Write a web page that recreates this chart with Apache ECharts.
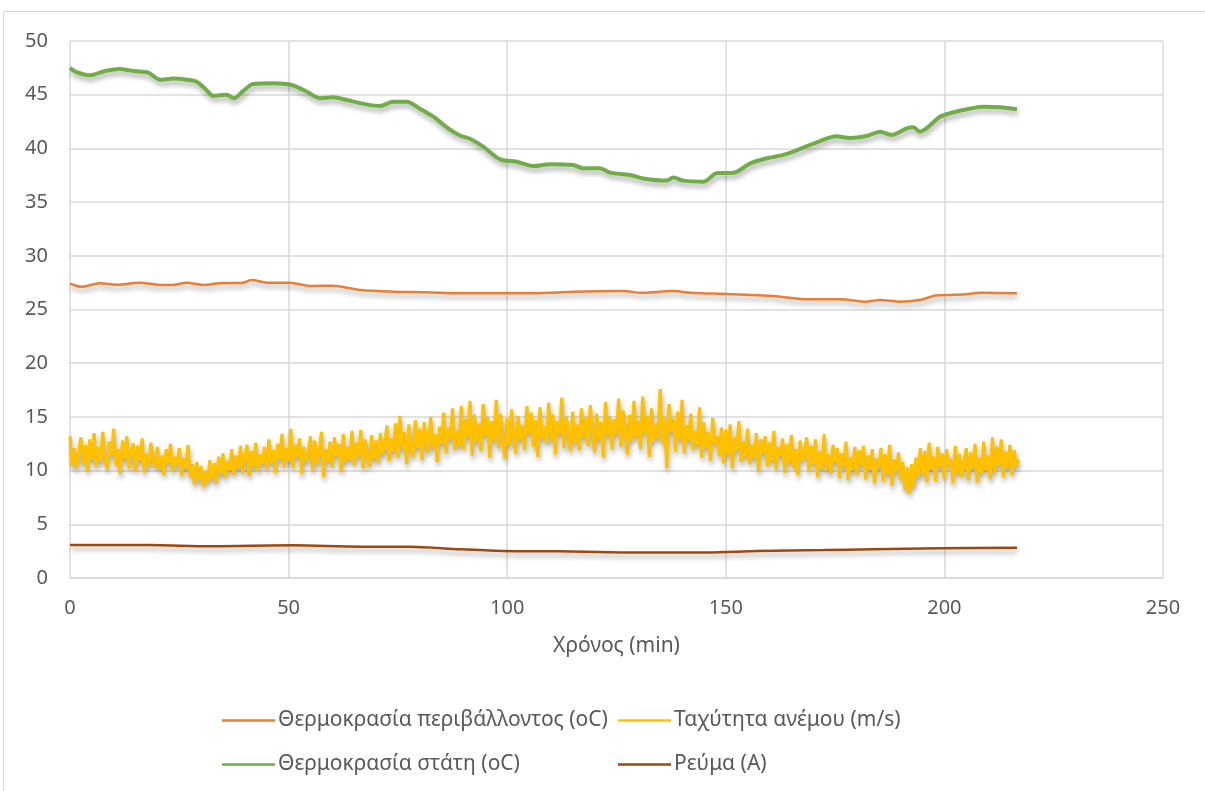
<!DOCTYPE html>
<html>
<head>
<meta charset="utf-8">
<title>Θερμοκρασία, άνεμος και ρεύμα</title>
<script src="https://cdn.jsdelivr.net/npm/echarts@6/dist/echarts.min.js"></script>
<style>
  html, body { margin: 0; padding: 0; background: #ffffff; }
  #chart { width: 1205px; height: 791px; }
</style>
</head>
<body>
<div id="chart"></div>
<script>
// Series names (legend text)
const seriesNames = [
  'Θερμοκρασία περιβάλλοντος (oC)',
  'Ταχύτητα ανέμου (m/s)',
  'Θερμοκρασία στάτη (oC)',
  'Ρεύμα (A)'
];

// Axis ticks
const xTicks = [0, 50, 100, 150, 200, 250];
const yTicks = [0, 5, 10, 15, 20, 25, 30, 35, 40, 45, 50];
const xAxisTitle = 'Χρόνος (min)';

// Ambient temperature: [minute, °C]
const ambientTemp = [
  [0, 27.4], [2.7, 27.12], [6.9, 27.44], [10.7, 27.31], [16, 27.5], [20.6, 27.28],
  [23.6, 27.28], [26.7, 27.5], [30.5, 27.28], [34.3, 27.44], [39.6, 27.5], [41.6, 27.75],
  [45, 27.5], [50.3, 27.5], [54.9, 27.19], [59.9, 27.22], [66.4, 26.82], [74, 26.66],
  [81.6, 26.6], [89.2, 26.51], [96.8, 26.51], [104.4, 26.51], [110, 26.56], [115.1, 26.66],
  [126.6, 26.72], [130.4, 26.56], [138, 26.72], [141.8, 26.56], [150.2, 26.44],
  [160.8, 26.26], [168.5, 25.95], [176.1, 25.95], [182.2, 25.73], [185.3, 25.88],
  [189.5, 25.73], [194.4, 25.88], [197.5, 26.26], [200.5, 26.35], [205.1, 26.41],
  [208.2, 26.56], [216.6, 26.51]
];

// Wind speed, sampled every half minute from t = 0 (m/s)
const windStep = 0.5;
const windSpeed = [
  13.2, 10.4, 12.1, 10.2, 11.8, 13.1, 10.6, 12.4, 9.9, 12.9,
  11.0, 13.5, 10.3, 12.2, 10.8, 13.6, 11.2, 10.1, 12.7, 11.4,
  13.9, 10.5, 12.0, 9.7, 12.8, 11.1, 13.2, 10.2, 11.7, 12.5,
  10.0, 12.3, 10.9, 13.0, 9.8, 11.6, 10.4, 12.6, 11.0, 10.3,
  12.2, 10.1, 11.4, 9.6, 12.0, 10.7, 12.5, 9.9, 11.3, 10.5,
  12.1, 9.5, 11.2, 10.2, 12.4, 9.4, 10.6, 8.7, 10.8, 9.1,
  10.4, 8.5, 9.9, 8.9, 11.0, 9.2, 10.7, 8.8, 11.3, 9.7,
  11.6, 9.3, 10.9, 10.0, 12.0, 9.6, 11.4, 10.2, 12.3, 9.8,
  11.1, 12.4, 9.5, 11.8, 10.4, 12.6, 9.9, 11.5, 10.6, 12.2,
  10.1, 12.9, 10.7, 11.9, 9.8, 12.5, 11.0, 13.4, 10.3, 12.1,
  10.9, 13.9, 10.2, 12.4, 11.3, 13.0, 9.7, 12.2, 10.8, 11.7,
  13.2, 10.0, 12.8, 10.6, 11.5, 13.6, 9.4, 12.0, 10.9, 12.7,
  10.3, 13.1, 11.4, 12.5, 9.9, 13.4, 10.8, 12.2, 11.0, 13.7,
  10.5, 12.6, 11.3, 13.8, 10.2, 12.9, 11.6, 10.4, 13.3, 11.1,
  12.8, 10.7, 13.5, 11.5, 12.2, 14.2, 10.9, 13.0, 11.8, 14.4,
  11.2, 15.1, 12.0, 13.6, 10.6, 14.3, 12.4, 11.3, 14.7, 12.1,
  13.9, 11.0, 14.5, 12.6, 11.7, 15.0, 12.2, 13.4, 10.8, 14.1,
  12.5, 15.4, 11.6, 14.0, 12.9, 15.8, 11.9, 13.7, 12.3, 16.0,
  12.0, 14.8, 13.1, 16.5, 11.4, 15.2, 12.7, 14.4, 11.8, 16.2,
  13.3, 15.0, 11.2, 14.6, 12.8, 16.6, 12.1, 15.3, 13.0, 11.1,
  14.9, 12.4, 15.7, 13.2, 11.6, 15.1, 12.9, 14.2, 11.9, 16.0,
  13.5, 15.4, 12.2, 14.7, 11.3, 15.9, 13.0, 14.1, 12.5, 16.3,
  12.8, 15.2, 11.5, 14.6, 13.4, 16.8, 12.1, 15.0, 13.7, 11.8,
  15.5, 12.6, 14.3, 11.9, 15.8, 13.1, 14.9, 12.3, 16.1, 13.6,
  11.7, 15.3, 12.9, 14.5, 11.2, 16.4, 13.3, 15.0, 12.0, 14.8,
  13.4, 16.7, 12.2, 15.6, 13.9, 11.5, 15.2, 12.8, 16.5, 13.1,
  14.6, 12.0, 16.9, 13.5, 15.1, 11.3, 15.8, 12.7, 14.4, 13.0,
  17.6, 12.5, 15.0, 10.2, 16.2, 13.6, 14.8, 11.8, 15.5, 12.9,
  16.6, 11.6, 14.2, 12.8, 15.3, 11.9, 13.7, 12.4, 15.9, 11.2,
  14.5, 12.1, 13.6, 10.9, 14.9, 12.6, 13.2, 11.4, 14.0, 10.7,
  13.8, 11.5, 14.3, 10.2, 13.1, 11.9, 14.6, 10.8, 12.7, 11.3,
  13.9, 10.6, 12.4, 11.2, 13.5, 9.9, 12.9, 11.6, 13.2, 10.4,
  12.6, 10.9, 13.7, 10.1, 12.2, 11.4, 13.0, 9.8, 12.5, 10.7,
  13.3, 10.3, 12.0, 9.6, 12.8, 10.9, 11.7, 13.1, 9.9, 12.3,
  10.6, 12.9, 9.4, 11.8, 10.2, 13.4, 10.0, 11.5, 9.7, 12.4,
  10.8, 12.1, 9.3, 11.6, 10.4, 12.7, 9.1, 11.2, 10.0, 12.2,
  9.6, 11.9, 10.5, 12.3, 9.2, 11.4, 10.1, 12.0, 8.8, 11.1,
  10.3, 12.1, 9.0, 11.5, 9.7, 12.4, 8.6, 11.0, 9.9, 11.7,
  9.1, 10.8, 8.2, 10.3, 7.9, 10.6, 8.5, 11.2, 9.3, 12.1,
  9.6, 11.8, 8.9, 12.6, 10.1, 11.3, 9.0, 12.2, 10.4, 11.6,
  9.2, 12.0, 10.6, 11.1, 8.8, 12.3, 9.8, 11.5, 9.4, 10.9,
  12.1, 9.1, 11.7, 10.2, 12.5, 8.9, 11.2, 9.7, 12.7, 10.0,
  11.4, 9.2, 13.1, 9.8, 12.2, 10.5, 12.9, 9.4, 11.8, 10.3,
  12.4, 9.6, 11.9, 10.4, 11.0
];

// Stator temperature: [minute, °C]
const statorTemp = [
  [0, 47.5], [1.5, 47.1], [4.6, 46.8], [8, 47.2], [11.4, 47.4], [14.5, 47.2],
  [17.9, 47.05], [20.6, 46.4], [23.6, 46.5], [26.7, 46.4], [29, 46.2], [30.8, 45.6],
  [32.8, 44.9], [35.8, 45.0], [37.5, 44.67], [39.5, 45.3], [41.9, 46.0], [46.5, 46.06],
  [50.7, 45.9], [54.1, 45.3], [57.2, 44.67], [60.2, 44.76], [63.3, 44.5], [67.8, 44.1],
  [70.9, 43.95], [73.9, 44.35], [77, 44.35], [80, 43.7], [83.1, 42.95], [86.5, 41.87],
  [89.2, 41.2], [91.5, 40.9], [94.5, 40.16], [98.4, 38.98], [102.2, 38.76], [106, 38.36],
  [109.8, 38.52], [115.1, 38.45], [117.4, 38.15], [121.2, 38.15], [123.5, 37.74],
  [128.1, 37.52], [131.1, 37.2], [136.5, 37.0], [138, 37.3], [140.3, 37.0], [144.9, 36.9],
  [148, 37.7], [151.8, 37.74], [155.6, 38.6], [159.4, 39.08], [163.2, 39.4], [167, 39.95],
  [170.4, 40.5], [175.4, 41.12], [178.4, 40.96], [182.2, 41.15], [185.3, 41.56],
  [187.9, 41.25], [191.4, 41.87], [192.9, 41.96], [194.4, 41.56], [199, 42.95],
  [201.3, 43.27], [205.1, 43.64], [208.9, 43.88], [212.7, 43.83], [216.6, 43.64]
];

// Current: [minute, A]
const current = [
  [0, 3.07], [18.3, 3.07], [32, 2.95], [51, 3.04], [66.4, 2.92], [77.8, 2.92],
  [89.2, 2.67], [99.1, 2.52], [112.1, 2.49], [126.6, 2.38], [145.6, 2.38],
  [157.1, 2.51], [172.3, 2.6], [183.7, 2.67], [199, 2.76], [216.6, 2.82]
];

const colors = ['#ED7D31', '#FFC000', '#70AD47', '#9E480E'];
const fontFamily = '"Noto Sans", "Open Sans", sans-serif';
const textColor = '#595959';
const gridColor = '#d9d9d9';

const windData = windSpeed.map((v, i) => [i * windStep, v]);

const shadow = {
  shadowColor: 'rgba(0,0,0,0.32)',
  shadowBlur: 5,
  shadowOffsetX: 1,
  shadowOffsetY: 4
};

function lineSeries(name, data, color, width, smooth) {
  return {
    name: name,
    type: 'line',
    data: data,
    showSymbol: false,
    symbol: 'none',
    smooth: smooth,
    lineStyle: Object.assign({ color: color, width: width }, shadow),
    itemStyle: { color: color },
    emphasis: { disabled: true }
  };
}

function legendBlock(names, left) {
  return {
    data: names.map(n => ({ name: n, icon: 'rect' })),
    orient: 'vertical',
    left: left,
    top: 705,
    itemWidth: 53,
    itemHeight: 2.5,
    itemGap: 23,
    selectedMode: false,
    textStyle: { color: textColor, fontSize: 21, fontFamily: fontFamily, padding: [0, 0, 0, -2] }
  };
}

const chart = echarts.init(document.getElementById('chart'), null, { renderer: 'canvas' });

chart.setOption({
  animation: false,
  color: colors,
  textStyle: { fontFamily: fontFamily },
  graphic: [{
    type: 'rect',
    shape: { x: 3.5, y: 11.5, width: 1220, height: 800 },
    style: { fill: 'none', stroke: gridColor, lineWidth: 1 },
    silent: true,
    z: -10
  }],
  grid: { left: 70, right: 42, top: 41, bottom: 213, containLabel: false },
  xAxis: {
    type: 'value',
    min: xTicks[0],
    max: xTicks[xTicks.length - 1],
    interval: xTicks[1] - xTicks[0],
    name: xAxisTitle,
    nameLocation: 'middle',
    nameGap: 58,
    nameTextStyle: { color: textColor, fontSize: 21, fontFamily: fontFamily },
    axisLine: { show: true, lineStyle: { color: gridColor, width: 1.5 } },
    axisTick: { show: false },
    axisLabel: { color: textColor, fontSize: 20, margin: 20, fontFamily: fontFamily },
    splitLine: { show: true, lineStyle: { color: gridColor, width: 1.5 } }
  },
  yAxis: {
    type: 'value',
    min: yTicks[0],
    max: yTicks[yTicks.length - 1],
    interval: yTicks[1] - yTicks[0],
    axisLine: { show: false },
    axisTick: { show: false },
    axisLabel: { color: textColor, fontSize: 20, margin: 22, fontFamily: fontFamily },
    splitLine: { show: true, lineStyle: { color: gridColor, width: 1.5 } }
  },
  legend: [
    legendBlock([seriesNames[0], seriesNames[2]], 217),
    legendBlock([seriesNames[1], seriesNames[3]], 613)
  ],
  series: [
    lineSeries(seriesNames[0], ambientTemp, colors[0], 2.5, 0.3),
    lineSeries(seriesNames[1], windData, colors[1], 3.2, false),
    lineSeries(seriesNames[2], statorTemp, colors[2], 4, 0.3),
    lineSeries(seriesNames[3], current, colors[3], 2.5, 0.3)
  ]
});
</script>
</body>
</html>
